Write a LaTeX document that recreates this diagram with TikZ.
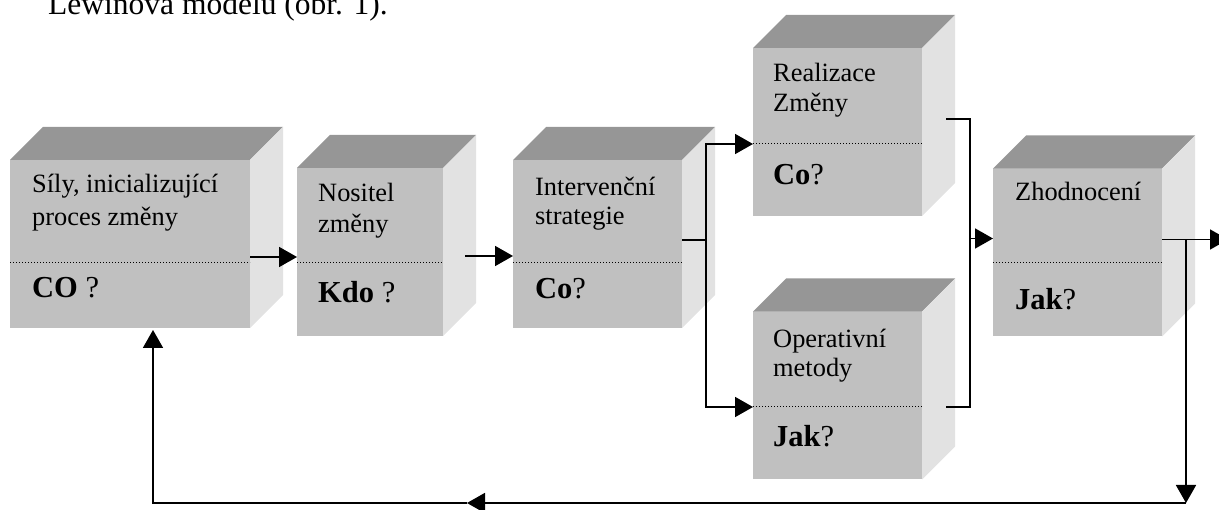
\documentclass[tikz,border=0pt]{standalone}
\usepackage{fontspec}
\setmainfont{Liberation Serif}
\usetikzlibrary{arrows.meta,calc}
\definecolor{frontc}{RGB}{192,192,192}
\definecolor{topc}{RGB}{150,150,150}
\definecolor{sidec}{RGB}{226,226,226}
\tikzset{
 front/.style={rectangle, fill=frontc, inner sep=0pt, outer sep=0pt, draw=none},
 conn/.style={line width=1.8pt, black},
 arr/.style={conn, -{Triangle[length=18pt,width=20pt]}},
 dotline/.style={dotted, line width=1pt, black},
 lbl/.style={anchor=base west, inner sep=0pt, font=\fontsize{26.4}{30}\selectfont},
 qlbl/.style={anchor=base west, inner sep=0pt, font=\fontsize{30.5}{36}\selectfont},
 toplbl/.style={anchor=base west, inner sep=0pt, font=\fontsize{31.5}{38}\selectfont},
}
\newcommand{\cubefaces}[1]{%
  \fill[topc] (#1.north west) -- ++(33pt,33pt) -- ([shift={(33pt,33pt)}]#1.north east) -- (#1.north east) -- cycle;
  \fill[sidec] (#1.north east) -- ++(33pt,33pt) -- ([shift={(33pt,33pt)}]#1.south east) -- (#1.south east) -- cycle;
}
\begin{document}
\begin{tikzpicture}[x=1pt,y=-1pt]
\useasboundingbox (0,0) rectangle (1219,510);

\node[toplbl] (head) at (48,15) {Lewinova modelu (obr. 1).};

% boxes
\node[front, minimum width=240pt, minimum height=168pt] (b1) at (130,244) {};
\node[front, minimum width=146pt, minimum height=168pt] (b2) at (370,252) {};
\node[front, minimum width=169pt, minimum height=168pt] (b3) at (597.5,244) {};
\node[front, minimum width=169pt, minimum height=168pt] (b4) at (837.5,132) {};
\node[front, minimum width=169pt, minimum height=168pt] (b5) at (837.5,395.5) {};
\node[front, minimum width=169pt, minimum height=168pt] (b6) at (1077.5,252.5) {};
\cubefaces{b1}
\cubefaces{b2}
\cubefaces{b3}
\cubefaces{b4}
\cubefaces{b5}
\cubefaces{b6}

% dotted separators
\draw[dotline] ([yshift=-19pt]b1.west) coordinate (d1) -- ([yshift=-19pt]b1.east) coordinate (d1e);
\draw[dotline] ([yshift=-11pt]b2.west) coordinate (d2) -- ([yshift=-11pt]b2.east) coordinate (d2e);
\draw[dotline] ([yshift=-19pt]b3.west) coordinate (d3) -- ([yshift=-19pt]b3.east) coordinate (d3e);
\draw[dotline] ([yshift=-12pt]b4.west) coordinate (d4) -- ([yshift=-12pt]b4.east) coordinate (d4e);
\draw[dotline] ([yshift=-11.5pt]b5.west) coordinate (d5) -- ([yshift=-11.5pt]b5.east) coordinate (d5e);
\draw[dotline] ([yshift=-10.5pt]b6.west) coordinate (d6) -- ([yshift=-10.5pt]b6.east) coordinate (d6e);

% texts
\node[lbl] (t1a) at (32,193) {Síly, inicializující};
\node[lbl] (t1b) at (32,226) {proces změny};
\node[qlbl] (t1c) at (32,298) {\textbf{CO} ?};
\node[lbl] (t2a) at (318,202) {Nositel};
\node[lbl] (t2b) at (318,233) {změny};
\node[qlbl] (t2c) at (318,303) {\textbf{Kdo} ?};
\node[lbl] (t3a) at (535,196) {Intervenční};
\node[lbl] (t3b) at (535,225) {strategie};
\node[qlbl] (t3c) at (535,299) {\textbf{Co}?};
\node[lbl] (t4a) at (773,82) {Realizace};
\node[lbl] (t4b) at (773,112) {Změny};
\node[qlbl] (t4c) at (773,185) {\textbf{Co}?};
\node[lbl] (t5a) at (773,348) {Operativní};
\node[lbl] (t5b) at (773,377) {metody};
\node[qlbl] (t5c) at (773,447) {\textbf{Jak}?};
\node[lbl] (t6a) at (1015,201) {Zhodnocení};
\node[qlbl] (t6c) at (1015,310) {\textbf{Jak}?};

% connectors
\coordinate (a1) at ([yshift=-13pt]b1.east);
\draw[arr] (a1) -- (a1 -| b2.west);
\coordinate (a2) at ([xshift=22pt,yshift=-4pt]b2.east);
\draw[arr] (a2) -- (a2 -| b3.west);
\coordinate (a3) at ([yshift=4pt]b3.east);
\coordinate (s3) at ([xshift=24pt]a3);
\draw[conn] (a3) -- (s3);
\draw[arr] (s3) |- (d4);
\draw[arr] (s3) |- (d5);
\coordinate (a4) at ([xshift=24pt,yshift=13pt]b4.east);
\coordinate (s4) at ([xshift=24pt]a4);
\coordinate (a5) at ([xshift=24pt]d5e);
\draw[conn] (a4) -- (s4) |- (a5);
\coordinate (b6in) at ([yshift=14pt]b6.west);
\draw[arr] (s4 |- b6in) -- (b6in);
\coordinate (a6) at ([yshift=13pt]b6.east);
\coordinate (out) at ([xshift=66pt]a6);
\draw[arr] (a6) -- (out);
\coordinate (s6) at ([xshift=24pt]a6);
\coordinate (corner) at (s6 |- 0,503);
\draw[arr] (s6) -- (corner);
\coordinate (mid) at (467,503);
\draw[arr] (corner) -- (mid);
\coordinate (b1in) at ([xshift=23pt,yshift=-2pt]b1.south);
\draw[arr] (mid) -| (b1in);
\end{tikzpicture}
\end{document}
